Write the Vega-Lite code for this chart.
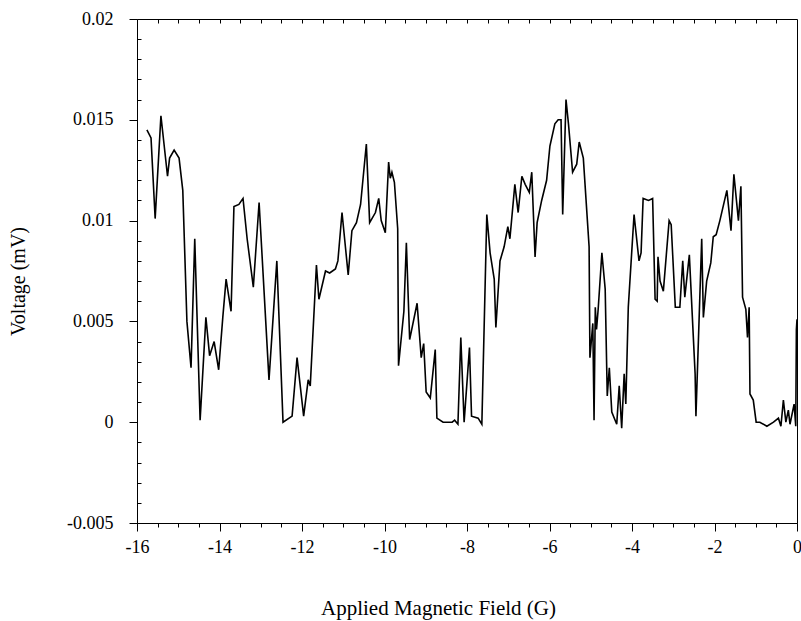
{
  "$schema": "https://vega.github.io/schema/vega-lite/v6.json",
  "width": 660,
  "height": 504,
  "autosize": "none",
  "padding": {"left": 137, "top": 19, "right": 4, "bottom": 98},
  "config": {
    "view": {"stroke": "black", "strokeWidth": 1},
    "font": "Liberation Serif",
    "axis": {"labelFont": "Liberation Serif", "titleFont": "Liberation Serif", "labelColor": "black", "titleColor": "black", "domainColor": "black", "tickColor": "black", "grid": false, "titleFontWeight": "normal", "labelFontSize": 18, "titleFontSize": 20}
  },
  "data": {"values": [
    {"b": -15.76, "v": 0.0145}, {"b": -15.66, "v": 0.0141}, {"b": -15.56, "v": 0.0101}, {"b": -15.42, "v": 0.0152},
    {"b": -15.26, "v": 0.0122}, {"b": -15.21, "v": 0.0131}, {"b": -15.10, "v": 0.0135}, {"b": -14.98, "v": 0.0131},
    {"b": -14.89, "v": 0.0115}, {"b": -14.79, "v": 0.0050}, {"b": -14.69, "v": 0.0027}, {"b": -14.60, "v": 0.0091},
    {"b": -14.47, "v": 0.0001}, {"b": -14.33, "v": 0.0052}, {"b": -14.24, "v": 0.0033}, {"b": -14.13, "v": 0.0040},
    {"b": -14.02, "v": 0.0026}, {"b": -13.92, "v": 0.0052}, {"b": -13.84, "v": 0.0071}, {"b": -13.72, "v": 0.0055},
    {"b": -13.65, "v": 0.0107}, {"b": -13.53, "v": 0.0108}, {"b": -13.43, "v": 0.0111}, {"b": -13.33, "v": 0.0091},
    {"b": -13.18, "v": 0.0067}, {"b": -13.04, "v": 0.0109}, {"b": -12.80, "v": 0.0021}, {"b": -12.61, "v": 0.0080},
    {"b": -12.46, "v": 0.0000}, {"b": -12.24, "v": 0.0003}, {"b": -12.12, "v": 0.0032}, {"b": -11.96, "v": 0.0003},
    {"b": -11.85, "v": 0.0021}, {"b": -11.80, "v": 0.0018}, {"b": -11.65, "v": 0.0078}, {"b": -11.59, "v": 0.0061},
    {"b": -11.43, "v": 0.0075}, {"b": -11.33, "v": 0.0074}, {"b": -11.19, "v": 0.0076}, {"b": -11.13, "v": 0.0080},
    {"b": -11.03, "v": 0.0104}, {"b": -10.88, "v": 0.0073}, {"b": -10.79, "v": 0.0095}, {"b": -10.68, "v": 0.0099},
    {"b": -10.58, "v": 0.0108}, {"b": -10.44, "v": 0.0138}, {"b": -10.36, "v": 0.0099}, {"b": -10.22, "v": 0.0104},
    {"b": -10.14, "v": 0.0111}, {"b": -10.08, "v": 0.0100}, {"b": -9.98, "v": 0.0094}, {"b": -9.90, "v": 0.0129},
    {"b": -9.86, "v": 0.0121}, {"b": -9.82, "v": 0.0124}, {"b": -9.76, "v": 0.0119}, {"b": -9.68, "v": 0.0096},
    {"b": -9.66, "v": 0.0028}, {"b": -9.53, "v": 0.0055}, {"b": -9.47, "v": 0.0089}, {"b": -9.39, "v": 0.0041},
    {"b": -9.21, "v": 0.0059}, {"b": -9.11, "v": 0.0032}, {"b": -9.05, "v": 0.0039}, {"b": -8.99, "v": 0.0015},
    {"b": -8.89, "v": 0.0012}, {"b": -8.77, "v": 0.0036}, {"b": -8.73, "v": 0.0002}, {"b": -8.58, "v": 0.0000},
    {"b": -8.36, "v": 0.0000}, {"b": -8.30, "v": 0.0001}, {"b": -8.22, "v": -0.0001}, {"b": -8.15, "v": 0.0042},
    {"b": -8.07, "v": 0.0000}, {"b": -7.94, "v": 0.0037}, {"b": -7.89, "v": 0.0003}, {"b": -7.73, "v": 0.0002},
    {"b": -7.64, "v": -0.0001}, {"b": -7.52, "v": 0.0103}, {"b": -7.44, "v": 0.0084}, {"b": -7.34, "v": 0.0071},
    {"b": -7.30, "v": 0.0047}, {"b": -7.20, "v": 0.0080}, {"b": -7.10, "v": 0.0087}, {"b": -7.01, "v": 0.0097},
    {"b": -6.96, "v": 0.0091}, {"b": -6.84, "v": 0.0118}, {"b": -6.76, "v": 0.0104}, {"b": -6.67, "v": 0.0122},
    {"b": -6.59, "v": 0.0118}, {"b": -6.49, "v": 0.0114}, {"b": -6.43, "v": 0.0124}, {"b": -6.35, "v": 0.0082},
    {"b": -6.30, "v": 0.0099}, {"b": -6.19, "v": 0.0110}, {"b": -6.07, "v": 0.0120}, {"b": -5.99, "v": 0.0137},
    {"b": -5.87, "v": 0.0148}, {"b": -5.79, "v": 0.0150}, {"b": -5.72, "v": 0.0150}, {"b": -5.68, "v": 0.0103},
    {"b": -5.60, "v": 0.0160}, {"b": -5.54, "v": 0.0148}, {"b": -5.44, "v": 0.0124}, {"b": -5.34, "v": 0.0128},
    {"b": -5.28, "v": 0.0139}, {"b": -5.18, "v": 0.0131}, {"b": -5.04, "v": 0.0087}, {"b": -5.02, "v": 0.0032},
    {"b": -4.95, "v": 0.0049}, {"b": -4.92, "v": 0.0001}, {"b": -4.89, "v": 0.0057}, {"b": -4.86, "v": 0.0046},
    {"b": -4.82, "v": 0.0056}, {"b": -4.73, "v": 0.0084}, {"b": -4.65, "v": 0.0066}, {"b": -4.60, "v": 0.0013},
    {"b": -4.55, "v": 0.0027}, {"b": -4.49, "v": 0.0005}, {"b": -4.37, "v": -0.0001}, {"b": -4.31, "v": 0.0018},
    {"b": -4.25, "v": -0.0003}, {"b": -4.19, "v": 0.0024}, {"b": -4.15, "v": 0.0009}, {"b": -4.09, "v": 0.0057},
    {"b": -3.95, "v": 0.0103}, {"b": -3.83, "v": 0.0080}, {"b": -3.78, "v": 0.0084}, {"b": -3.73, "v": 0.0111},
    {"b": -3.60, "v": 0.0110}, {"b": -3.50, "v": 0.0111}, {"b": -3.44, "v": 0.0061}, {"b": -3.39, "v": 0.0060},
    {"b": -3.37, "v": 0.0082}, {"b": -3.32, "v": 0.0070}, {"b": -3.24, "v": 0.0065}, {"b": -3.10, "v": 0.0100},
    {"b": -3.05, "v": 0.0098}, {"b": -2.95, "v": 0.0057}, {"b": -2.84, "v": 0.0057}, {"b": -2.77, "v": 0.0080},
    {"b": -2.72, "v": 0.0062}, {"b": -2.61, "v": 0.0083}, {"b": -2.47, "v": 0.0024}, {"b": -2.45, "v": 0.0003},
    {"b": -2.31, "v": 0.0091}, {"b": -2.27, "v": 0.0052}, {"b": -2.19, "v": 0.0070}, {"b": -2.09, "v": 0.0079},
    {"b": -2.03, "v": 0.0092}, {"b": -1.96, "v": 0.0093}, {"b": -1.87, "v": 0.0100}, {"b": -1.70, "v": 0.0115},
    {"b": -1.60, "v": 0.0095}, {"b": -1.53, "v": 0.0123}, {"b": -1.42, "v": 0.0100}, {"b": -1.36, "v": 0.0117},
    {"b": -1.32, "v": 0.0062}, {"b": -1.24, "v": 0.0056}, {"b": -1.20, "v": 0.0042}, {"b": -1.16, "v": 0.0057},
    {"b": -1.14, "v": 0.0014}, {"b": -1.06, "v": 0.0011}, {"b": -0.99, "v": 0.0000}, {"b": -0.90, "v": 0.0000},
    {"b": -0.73, "v": -0.0002}, {"b": -0.57, "v": 0.0000}, {"b": -0.45, "v": 0.0002}, {"b": -0.39, "v": -0.0002},
    {"b": -0.33, "v": 0.0011}, {"b": -0.27, "v": 0.0000}, {"b": -0.21, "v": 0.0006}, {"b": -0.17, "v": -0.0001},
    {"b": -0.07, "v": 0.0009}, {"b": -0.03, "v": -0.0002}, {"b": -0.015, "v": 0.0046}, {"b": 0, "v": 0.0051}
  ]},
  "resolve": {"axis": {"x": "independent", "y": "independent"}},
  "layer": [
    {
      "mark": {"type": "line", "color": "black", "strokeWidth": 1.6, "interpolate": "linear"},
      "encoding": {
        "x": {"field": "b", "type": "quantitative", "scale": {"domain": [-16, 0], "nice": false},
          "axis": {"orient": "bottom", "title": "Applied Magnetic Field (G)", "values": [-16, -14, -12, -10, -8, -6, -4, -2, 0],
            "tickSize": 8, "labelPadding": 7, "labelFlush": false, "labelOverlap": false,
            "labelExpr": "datum.value < 0 ? '-' + format(-datum.value, 'd') : '0'",
            "titleX": 301, "titleY": 74, "titleBaseline": "top", "titleFontSize": 21}},
        "y": {"field": "v", "type": "quantitative", "scale": {"domain": [-0.005, 0.02], "nice": false, "zero": false},
          "axis": {"orient": "left", "title": "Voltage (mV)", "values": [-0.005, 0, 0.005, 0.01, 0.015, 0.02],
            "tickSize": 8, "labelPadding": 16, "labelFlush": false, "labelOverlap": false,
            "labelExpr": "datum.value < 0 ? '-' + format(-datum.value, '~g') : format(datum.value, '~g')",
            "titleX": -119, "titleY": 262, "titleBaseline": "middle", "titleAngle": 270, "titleFontSize": 20}}
      }
    },
    {
      "mark": {"type": "line", "opacity": 0},
      "encoding": {
        "x": {"field": "b", "type": "quantitative",
          "axis": {"orient": "bottom", "title": null, "labels": false, "domain": false, "tickSize": 4,
            "values": [-15.5, -15, -14.5, -13.5, -13, -12.5, -11.5, -11, -10.5, -9.5, -9, -8.5, -7.5, -7, -6.5, -5.5, -5, -4.5, -3.5, -3, -2.5, -1.5, -1, -0.5]}},
        "y": {"field": "v", "type": "quantitative",
          "axis": {"orient": "right", "offset": -660, "title": null, "labels": false, "domain": false, "tickSize": 4,
            "values": [-0.004, -0.003, -0.002, -0.001, 0.001, 0.002, 0.003, 0.004, 0.006, 0.007, 0.008, 0.009, 0.011, 0.012, 0.013, 0.014, 0.016, 0.017, 0.018, 0.019]}}
      }
    },
    {
      "mark": {"type": "line", "opacity": 0},
      "encoding": {
        "x": {"field": "b", "type": "quantitative",
          "axis": {"orient": "bottom", "offset": -504, "title": null, "labels": false, "domain": false, "tickSize": 4,
            "values": [-15.5, -15, -14.5, -14, -13.5, -13, -12.5, -12, -11.5, -11, -10.5, -10, -9.5, -9, -8.5, -8, -7.5, -7, -6.5, -6, -5.5, -5, -4.5, -4, -3.5, -3, -2.5, -2, -1.5, -1, -0.5]}},
        "y": {"field": "v", "type": "quantitative", "axis": null}
      }
    }
  ]
}
